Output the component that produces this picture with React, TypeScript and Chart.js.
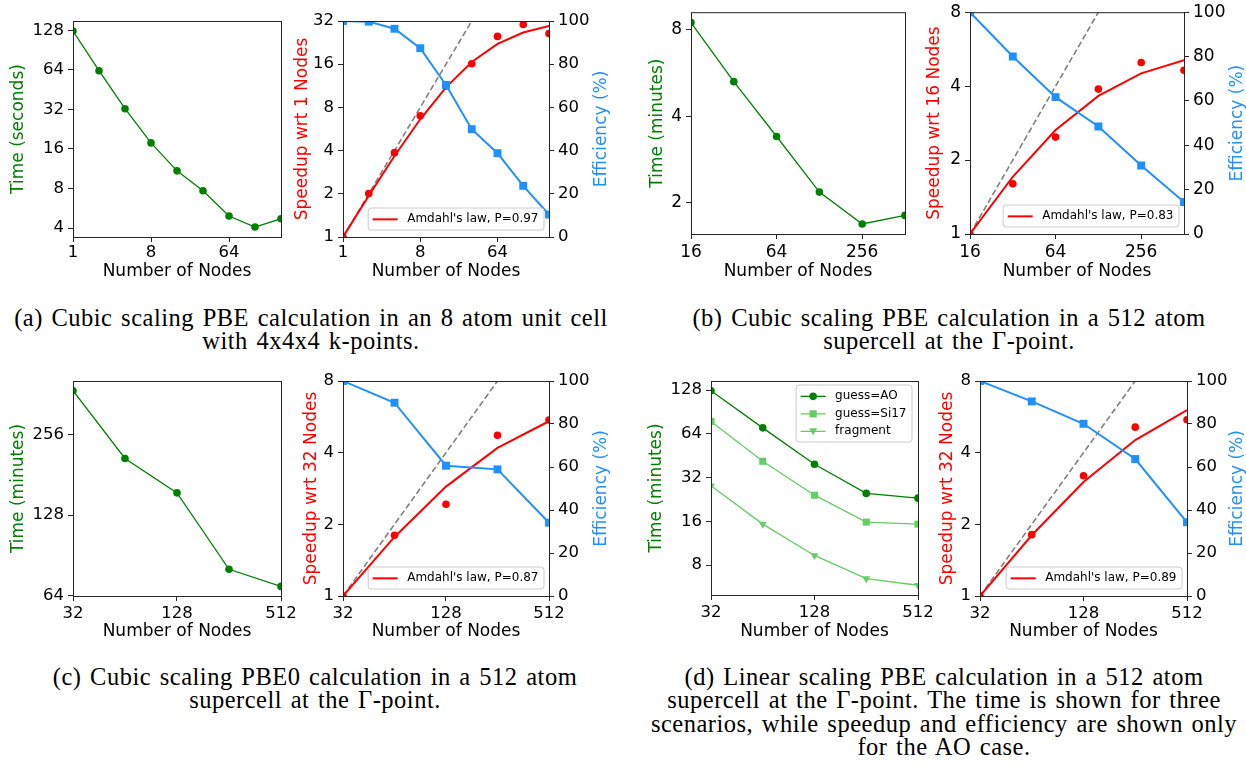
import React, { useEffect, useRef } from "react";
import { Chart, registerables } from "chart.js";

Chart.register(...registerables);

// ---------------- data ----------------
const A_NODES = [1, 2, 4, 8, 16, 32, 64, 128, 256];
const A_TIME = [126.5, 63.1, 32.4, 17.8, 10.9, 7.7, 4.94, 4.07, 4.71];
const A_SPEEDUP = [1, 2.01, 3.87, 7.0, 11.3, 16.1, 25.0, 30.3, 26.2];
const A_EFFICIENCY = [100, 99.7, 96.4, 87.4, 70.4, 49.9, 38.8, 23.7, 10.4];
const A_AMDAHL = [1, 1.94, 3.67, 6.61, 11.03, 16.58, 22.15, 26.6, 29.6];
const A_IDEAL = [1, 2, 4, 8, 16, 32, 64, 128, 256];

const B_NODES = [16, 32, 64, 128, 256, 512];
const B_TIME = [8.45, 5.27, 3.4, 2.18, 1.69, 1.81];
const B_SPEEDUP = [1, 1.6, 2.48, 3.89, 4.99, 4.64];
const B_EFFICIENCY = [100, 80.0, 61.7, 48.5, 30.9, 14.4];
const B_AMDAHL = [1, 1.71, 2.65, 3.65, 4.51, 5.1];
const B_IDEAL = [1, 2, 4, 8, 16, 32];

const C_NODES = [32, 64, 128, 256, 512];
const C_TIME = [373.5, 208.4, 155, 80.3, 69.3];
const C_SPEEDUP = [1, 1.8, 2.43, 4.73, 5.49];
const C_EFFICIENCY = [100, 89.9, 60.6, 58.9, 34.1];
const C_AMDAHL = [1, 1.77, 2.88, 4.19, 5.42];
const C_IDEAL = [1, 2, 4, 8, 16];

const D_NODES = [32, 64, 128, 256, 512];
const D_TIME_AO = [126.7, 70.3, 39.5, 24.9, 23.1];
const D_TIME_SI17 = [77.8, 41.4, 24.2, 15.8, 15.3];
const D_TIME_FRAGMENT = [28.1, 15.3, 9.32, 6.45, 5.81];
const D_SPEEDUP = [1, 1.81, 3.2, 5.12, 5.5];
const D_EFFICIENCY = [100, 90.5, 80.1, 63.7, 34.3];
const D_AMDAHL = [1, 1.8, 3.01, 4.52, 6.04];
const D_IDEAL = [1, 2, 4, 8, 16];

// ---------------- ticks ----------------
const A_X_TICKS = [1, 8, 64];
const B_X_TICKS = [16, 64, 256];
const CD_X_TICKS = [32, 128, 512];
const A_TIME_TICKS = [4, 8, 16, 32, 64, 128];
const B_TIME_TICKS = [2, 4, 8];
const C_TIME_TICKS = [64, 128, 256];
const D_TIME_TICKS = [8, 16, 32, 64, 128];
const A_SPEED_TICKS = [1, 2, 4, 8, 16, 32];
const SPEED_TICKS = [1, 2, 4, 8];
const EFF_TICKS = [0, 20, 40, 60, 80, 100];

// ---------------- text ----------------
const X_LABEL = "Number of Nodes";
const EFF_LABEL = "Efficiency (%)";
const A_TIME_LABEL = "Time (seconds)";
const MIN_TIME_LABEL = "Time (minutes)";
const A_SPEED_LABEL = "Speedup wrt 1 Nodes";
const B_SPEED_LABEL = "Speedup wrt 16 Nodes";
const CD_SPEED_LABEL = "Speedup wrt 32 Nodes";
const A_AMDAHL_LABEL = "Amdahl's law, P=0.97";
const B_AMDAHL_LABEL = "Amdahl's law, P=0.83";
const C_AMDAHL_LABEL = "Amdahl's law, P=0.87";
const D_AMDAHL_LABEL = "Amdahl's law, P=0.89";
const D_SERIES_LABELS = ["guess=AO", "guess=Si17", "fragment"];

const CAPTION_A = ["(a) Cubic scaling PBE calculation in an 8 atom unit cell", "with 4x4x4 k-points."];
const CAPTION_B = ["(b) Cubic scaling PBE calculation in a 512 atom", "supercell at the \u0393-point."];
const CAPTION_C = ["(c) Cubic scaling PBE0 calculation in a 512 atom", "supercell at the \u0393-point."];
const CAPTION_D = [
  "(d) Linear scaling PBE calculation in a 512 atom",
  "supercell at the \u0393-point. The time is shown for three",
  "scenarios, while speedup and efficiency are shown only",
  "for the AO case.",
];

// ---------------- styles ----------------
const FONT = '"DejaVu Sans", sans-serif';
const GREEN = "#008000";
const LIGHT_GREEN = "#66cc66";
const RED = "#ff0000";
const BLUE = "#1e90ff";
const GRAY = "#808080";
const LW = 72; // left axis area
const RW = 72; // right axis area
const PT = 14; // top padding
const XH = 52; // bottom axis area

Chart.defaults.font.family = FONT;

type Marker = "circle" | "rect" | "triangleDown" | "none";
type LegendItem = { label: string; color: string; lw: number; marker: Marker; ms: number };
type Decor = {
  left: { text: string; color: string; offset: number };
  right?: { text: string; color: string; offset: number };
  bottom: { text: string; offset: number };
  legend?: { corner: "tr" | "br"; mx: number; my: number; items: LegendItem[] };
};

function drawMarker(ctx: CanvasRenderingContext2D, m: Marker, x: number, y: number, s: number, color: string) {
  ctx.fillStyle = color;
  ctx.beginPath();
  if (m === "circle") ctx.arc(x, y, s, 0, Math.PI * 2);
  else if (m === "rect") ctx.rect(x - s, y - s, 2 * s, 2 * s);
  else if (m === "triangleDown") {
    ctx.moveTo(x - s, y - s * 0.8);
    ctx.lineTo(x + s, y - s * 0.8);
    ctx.lineTo(x, y + s);
    ctx.closePath();
  }
  if (m !== "none") ctx.fill();
}

function makeDecor(o: Decor) {
  return {
    id: "decor",
    afterDraw(chart: any) {
      const ctx: CanvasRenderingContext2D = chart.ctx;
      const a = chart.chartArea;
      ctx.save();
      // legend
      if (o.legend) {
        const lg = o.legend;
        ctx.font = `12px ${FONT}`;
        const tw = Math.max(...lg.items.map((it) => ctx.measureText(it.label).width));
        const padL = 4.5, lineLen = 25, gap = 9.5, padR = 5.5, rowH = 17.5;
        const bw = padL + lineLen + gap + tw + padR;
        const bh = lg.items.length * rowH + 4.5;
        const bx = a.right - lg.mx - bw;
        const by = lg.corner === "tr" ? a.top + lg.my : a.bottom - lg.my - bh;
        ctx.beginPath();
        const r = 3;
        ctx.moveTo(bx + r, by);
        ctx.arcTo(bx + bw, by, bx + bw, by + bh, r);
        ctx.arcTo(bx + bw, by + bh, bx, by + bh, r);
        ctx.arcTo(bx, by + bh, bx, by, r);
        ctx.arcTo(bx, by, bx + bw, by, r);
        ctx.closePath();
        ctx.fillStyle = "rgba(255,255,255,0.8)";
        ctx.fill();
        ctx.strokeStyle = "#cccccc";
        ctx.lineWidth = 1;
        ctx.stroke();
        lg.items.forEach((it, i) => {
          const cy = by + 2.6 + rowH * (i + 0.5);
          ctx.strokeStyle = it.color;
          ctx.lineWidth = it.lw;
          ctx.beginPath();
          ctx.moveTo(bx + padL, cy);
          ctx.lineTo(bx + padL + lineLen, cy);
          ctx.stroke();
          drawMarker(ctx, it.marker, bx + padL + lineLen / 2, cy, it.ms, it.color);
          ctx.fillStyle = "#000";
          ctx.textAlign = "left";
          ctx.textBaseline = "middle";
          ctx.fillText(it.label, bx + padL + lineLen + gap, cy);
        });
      }
      // frame
      ctx.strokeStyle = "#262626";
      ctx.lineWidth = 1;
      ctx.strokeRect(a.left + 0.5, a.top + 0.5, a.right - a.left, a.bottom - a.top);
      // axis titles
      ctx.font = `17px ${FONT}`;
      ctx.textAlign = "center";
      ctx.textBaseline = "middle";
      const cy = (a.top + a.bottom) / 2;
      const vt = (t: { text: string; color: string }, x: number) => {
        ctx.save();
        ctx.translate(x, cy);
        ctx.rotate(-Math.PI / 2);
        ctx.fillStyle = t.color;
        ctx.fillText(t.text, 0, 0);
        ctx.restore();
      };
      vt(o.left, a.left - o.left.offset);
      if (o.right) vt(o.right, a.right + o.right.offset);
      ctx.fillStyle = "#000";
      ctx.fillText(o.bottom.text, (a.left + a.right) / 2, a.bottom + o.bottom.offset);
      ctx.restore();
    },
  };
}

function axis(
  type: string,
  position: string,
  min: number,
  max: number,
  ticks: number[],
  fs: number,
  size: number,
  pad: number
) {
  return {
    type,
    position,
    min,
    max,
    bounds: "data",
    afterBuildTicks: (s: any) => {
      s.ticks = ticks.map((v) => ({ value: v }));
    },
    afterFit: (s: any) => {
      if (position === "bottom") s.height = size;
      else s.width = size;
    },
    ticks: {
      autoSkip: false,
      maxRotation: 0,
      minRotation: 0,
      padding: pad,
      color: "#000",
      font: { family: FONT, size: fs },
      callback: (v: any) => String(v),
    },
    grid: {
      display: true,
      drawOnChartArea: false,
      drawTicks: true,
      tickLength: 5,
      tickWidth: 1,
      tickColor: "#262626",
      color: "#262626",
    },
    border: { display: false },
    title: { display: false },
  };
}

const pts = (xs: number[], ys: number[]) => xs.map((x, i) => ({ x, y: ys[i] }));

type TimeSeries = { label: string; values: number[]; color: string; marker: Marker; radius: number; rotation?: number };

function timeConfig(p: {
  nodes: number[];
  xr: [number, number];
  xticks: number[];
  yr: [number, number];
  yticks: number[];
  series: TimeSeries[];
  fs: number;
  xpad: number;
  decor: Decor;
}) {
  return {
    type: "line",
    data: {
      datasets: p.series.map((s) => ({
        label: s.label,
        data: pts(p.nodes, s.values),
        borderColor: s.color,
        backgroundColor: s.color,
        borderWidth: 1.3,
        pointStyle: s.marker === "triangleDown" ? "triangle" : s.marker,
        pointRotation: s.rotation || 0,
        pointRadius: s.radius,
        pointHoverRadius: s.radius,
        pointBackgroundColor: s.color,
        pointBorderWidth: 0,
        tension: 0,
        clip: 0,
      })),
    },
    options: {
      animation: false,
      responsive: false,
      events: [],
      layout: { padding: { top: PT, right: RW, left: 0, bottom: 0 } },
      plugins: { legend: { display: false }, tooltip: { enabled: false } },
      scales: {
        x: axis("logarithmic", "bottom", p.xr[0], p.xr[1], p.xticks, p.fs, XH, p.xpad),
        y: axis("logarithmic", "left", p.yr[0], p.yr[1], p.yticks, p.fs, LW, 4),
      },
    },
    plugins: [makeDecor(p.decor)],
  };
}

function speedConfig(p: {
  nodes: number[];
  xr: [number, number];
  xticks: number[];
  ymax: number;
  yticks: number[];
  speedup: number[];
  amdahl: number[];
  ideal: number[];
  eff: number[];
  amdahlLabel: string;
  fs: number;
  xpad: number;
  decor: Decor;
}) {
  return {
    type: "line",
    data: {
      datasets: [
        {
          label: "Efficiency",
          yAxisID: "y1",
          order: 0,
          data: pts(p.nodes, p.eff),
          borderColor: BLUE,
          backgroundColor: BLUE,
          borderWidth: 2,
          pointStyle: "rect",
          pointRadius: 5.6,
          pointHoverRadius: 5.6,
          pointBackgroundColor: BLUE,
          pointBorderWidth: 0,
          tension: 0,
          clip: 0,
        },
        {
          label: "Speedup",
          yAxisID: "y",
          order: 1,
          data: pts(p.nodes, p.speedup),
          showLine: false,
          borderColor: RED,
          backgroundColor: RED,
          pointStyle: "circle",
          pointRadius: 3.8,
          pointHoverRadius: 3.8,
          pointBackgroundColor: RED,
          pointBorderWidth: 0,
          clip: 0,
        },
        {
          label: p.amdahlLabel,
          yAxisID: "y",
          order: 2,
          data: pts(p.nodes, p.amdahl),
          borderColor: RED,
          borderWidth: 2,
          pointRadius: 0,
          pointHoverRadius: 0,
          tension: 0,
          clip: 0,
        },
        {
          label: "Ideal",
          yAxisID: "y",
          order: 3,
          data: pts(p.nodes, p.ideal),
          borderColor: GRAY,
          borderWidth: 1.6,
          borderDash: [6, 3],
          pointRadius: 0,
          pointHoverRadius: 0,
          tension: 0,
          clip: 0,
        },
      ],
    },
    options: {
      animation: false,
      responsive: false,
      events: [],
      layout: { padding: { top: PT, right: 0, left: 0, bottom: 0 } },
      plugins: { legend: { display: false }, tooltip: { enabled: false } },
      scales: {
        x: axis("logarithmic", "bottom", p.xr[0], p.xr[1], p.xticks, p.fs, XH, p.xpad),
        y: axis("logarithmic", "left", 1, p.ymax, p.yticks, p.fs, LW, 4),
        y1: axis("linear", "right", 0, 100, EFF_TICKS, p.fs, RW, 4),
      },
    },
    plugins: [makeDecor(p.decor)],
  };
}

function amdahlLegend(label: string) {
  return { corner: "br" as const, mx: 5, my: 7, items: [{ label, color: RED, lw: 2, marker: "none" as Marker, ms: 0 }] };
}

function ChartBox({ box, make }: { box: number[]; make: () => any }) {
  const ref = useRef<HTMLCanvasElement>(null);
  const [L, R, T, B] = box;
  const w = R - L + LW + RW;
  const h = B - T + PT + XH;
  useEffect(() => {
    const chart = new Chart(ref.current as HTMLCanvasElement, make());
    return () => chart.destroy();
  }, []);
  return (
    <canvas
      ref={ref}
      width={w}
      height={h}
      style={{ position: "absolute", left: L - LW, top: T - PT, width: w, height: h }}
    />
  );
}

function Caption({ lines, cx, y0 }: { lines: string[]; cx: number; y0: number }) {
  return (
    <>
      {lines.map((t, i) => (
        <div
          key={i}
          style={{
            position: "absolute",
            left: cx - 340,
            width: 680,
            top: y0 + i * 23.3 - 14,
            textAlign: "center",
            fontFamily: '"Liberation Serif", serif',
            fontSize: 24.5,
            letterSpacing: "0.5px",
            wordSpacing: "2px",
            lineHeight: "28px",
            color: "#000",
            whiteSpace: "nowrap",
          }}
        >
          {t}
        </div>
      ))}
    </>
  );
}

export default function App() {
  return (
    <div
      style={{
        position: "absolute",
        left: 0,
        top: 0,
        width: 1246,
        height: 769,
        overflow: "hidden",
        background: "#fff",
      }}
    >
      <ChartBox
        box={[73, 281, 21, 237]}
        make={() =>
          timeConfig({
            nodes: A_NODES,
            xr: [1, 256],
            xticks: A_X_TICKS,
            yr: [3.42, 150.8],
            yticks: A_TIME_TICKS,
            series: [{ label: "time", values: A_TIME, color: GREEN, marker: "circle", radius: 3.8 }],
            fs: 16.5,
            xpad: 1,
            decor: { left: { text: A_TIME_LABEL, color: GREEN, offset: 54 }, bottom: { text: X_LABEL, offset: 35 } },
          })
        }
      />
      <ChartBox
        box={[343, 549, 21, 237]}
        make={() =>
          speedConfig({
            nodes: A_NODES,
            xr: [1, 256],
            xticks: A_X_TICKS,
            ymax: 32,
            yticks: A_SPEED_TICKS,
            speedup: A_SPEEDUP,
            amdahl: A_AMDAHL,
            ideal: A_IDEAL,
            eff: A_EFFICIENCY,
            amdahlLabel: A_AMDAHL_LABEL,
            fs: 16.5,
            xpad: 1,
            decor: {
              left: { text: A_SPEED_LABEL, color: RED, offset: 40 },
              right: { text: EFF_LABEL, color: BLUE, offset: 53 },
              bottom: { text: X_LABEL, offset: 35 },
              legend: amdahlLegend(A_AMDAHL_LABEL),
            },
          })
        }
      />
      <ChartBox
        box={[691, 905, 12, 234]}
        make={() =>
          timeConfig({
            nodes: B_NODES,
            xr: [16, 512],
            xticks: B_X_TICKS,
            yr: [1.56, 9.18],
            yticks: B_TIME_TICKS,
            series: [{ label: "time", values: B_TIME, color: GREEN, marker: "circle", radius: 3.8 }],
            fs: 17,
            xpad: 3,
            decor: { left: { text: MIN_TIME_LABEL, color: GREEN, offset: 33 }, bottom: { text: X_LABEL, offset: 38 } },
          })
        }
      />
      <ChartBox
        box={[970, 1184, 12, 234]}
        make={() =>
          speedConfig({
            nodes: B_NODES,
            xr: [16, 512],
            xticks: B_X_TICKS,
            ymax: 8,
            yticks: SPEED_TICKS,
            speedup: B_SPEEDUP,
            amdahl: B_AMDAHL,
            ideal: B_IDEAL,
            eff: B_EFFICIENCY,
            amdahlLabel: B_AMDAHL_LABEL,
            fs: 17,
            xpad: 3,
            decor: {
              left: { text: B_SPEED_LABEL, color: RED, offset: 35 },
              right: { text: EFF_LABEL, color: BLUE, offset: 54 },
              bottom: { text: X_LABEL, offset: 38 },
              legend: amdahlLegend(B_AMDAHL_LABEL),
            },
          })
        }
      />
      <ChartBox
        box={[73, 281, 381, 596]}
        make={() =>
          timeConfig({
            nodes: C_NODES,
            xr: [32, 512],
            xticks: CD_X_TICKS,
            yr: [63.8, 406],
            yticks: C_TIME_TICKS,
            series: [{ label: "time", values: C_TIME, color: GREEN, marker: "circle", radius: 3.8 }],
            fs: 16.5,
            xpad: 3,
            decor: { left: { text: MIN_TIME_LABEL, color: GREEN, offset: 54 }, bottom: { text: X_LABEL, offset: 36 } },
          })
        }
      />
      <ChartBox
        box={[343, 549, 381, 596]}
        make={() =>
          speedConfig({
            nodes: C_NODES,
            xr: [32, 512],
            xticks: CD_X_TICKS,
            ymax: 8,
            yticks: SPEED_TICKS,
            speedup: C_SPEEDUP,
            amdahl: C_AMDAHL,
            ideal: C_IDEAL,
            eff: C_EFFICIENCY,
            amdahlLabel: C_AMDAHL_LABEL,
            fs: 16.5,
            xpad: 3,
            decor: {
              left: { text: CD_SPEED_LABEL, color: RED, offset: 31 },
              right: { text: EFF_LABEL, color: BLUE, offset: 53 },
              bottom: { text: X_LABEL, offset: 36 },
              legend: amdahlLegend(C_AMDAHL_LABEL),
            },
          })
        }
      />
      <ChartBox
        box={[711, 918, 381, 595]}
        make={() =>
          timeConfig({
            nodes: D_NODES,
            xr: [32, 512],
            xticks: CD_X_TICKS,
            yr: [4.98, 147.7],
            yticks: D_TIME_TICKS,
            series: [
              { label: D_SERIES_LABELS[0], values: D_TIME_AO, color: GREEN, marker: "circle", radius: 3.8 },
              { label: D_SERIES_LABELS[1], values: D_TIME_SI17, color: LIGHT_GREEN, marker: "rect", radius: 5 },
              { label: D_SERIES_LABELS[2], values: D_TIME_FRAGMENT, color: LIGHT_GREEN, marker: "triangleDown", radius: 4.6, rotation: 180 },
            ],
            fs: 16.5,
            xpad: 3,
            decor: {
              left: { text: MIN_TIME_LABEL, color: GREEN, offset: 54 },
              bottom: { text: X_LABEL, offset: 37 },
              legend: {
                corner: "tr",
                mx: 6,
                my: 4,
                items: [
                  { label: D_SERIES_LABELS[0], color: GREEN, lw: 1.3, marker: "circle", ms: 3.8 },
                  { label: D_SERIES_LABELS[1], color: LIGHT_GREEN, lw: 1.3, marker: "rect", ms: 3.6 },
                  { label: D_SERIES_LABELS[2], color: LIGHT_GREEN, lw: 1.3, marker: "triangleDown", ms: 4 },
                ],
              },
            },
          })
        }
      />
      <ChartBox
        box={[980, 1187, 381, 596]}
        make={() =>
          speedConfig({
            nodes: D_NODES,
            xr: [32, 512],
            xticks: CD_X_TICKS,
            ymax: 8,
            yticks: SPEED_TICKS,
            speedup: D_SPEEDUP,
            amdahl: D_AMDAHL,
            ideal: D_IDEAL,
            eff: D_EFFICIENCY,
            amdahlLabel: D_AMDAHL_LABEL,
            fs: 16.5,
            xpad: 3,
            decor: {
              left: { text: CD_SPEED_LABEL, color: RED, offset: 32 },
              right: { text: EFF_LABEL, color: BLUE, offset: 51 },
              bottom: { text: X_LABEL, offset: 36 },
              legend: amdahlLegend(D_AMDAHL_LABEL),
            },
          })
        }
      />
      <Caption lines={CAPTION_A} cx={311} y0={318} />
      <Caption lines={CAPTION_B} cx={949} y0={318} />
      <Caption lines={CAPTION_C} cx={315} y0={677} />
      <Caption lines={CAPTION_D} cx={944} y0={677} />
    </div>
  );
}
